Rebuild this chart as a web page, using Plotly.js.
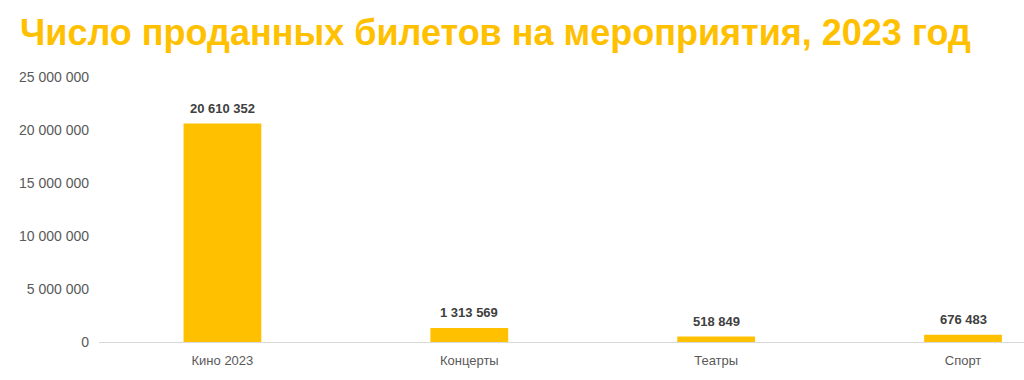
<!DOCTYPE html>
<html><head><meta charset="utf-8">
<script src="https://cdn.plot.ly/plotly-3.0.1.min.js"></script>
<style>html,body{margin:0;padding:0;background:#fff}</style>
</head><body><div id="chart" style="width:1024px;height:380px"></div>
<script>
const categories = ["Кино 2023", "Концерты", "Театры", "Спорт"];
const tickets = [20610352, 1313569, 518849, 676483];
const yTicks = [0, 5000000, 10000000, 15000000, 20000000, 25000000];

function fmt(n){ return String(n).replace(/\B(?=(\d{3})+(?!\d))/g, " "); }

const trace = {
  type: "bar", x: categories, y: tickets,
  marker: {color: "#FFC000"}, width: 0.315,
  hoverinfo: "skip"
};
const annotations = categories.map((c, i) => ({
  x: c, y: tickets[i], xref: "x", yref: "y",
  text: "<b>" + fmt(tickets[i]) + "</b>", showarrow: false,
  yanchor: "bottom", yshift: 6,
  font: {family: "Liberation Sans, Arial, sans-serif", size: 13, color: "#404040"}
}));
const layout = {
  width: 1024, height: 380,
  margin: {l: 98.5, r: 0, t: 77, b: 38, pad: 0},
  paper_bgcolor: "#fff", plot_bgcolor: "#fff",
  font: {family: "Liberation Sans, Arial, sans-serif", size: 13, color: "#595959"},
  title: {
    text: "<b>Число проданных билетов на мероприятия, 2023 год</b>",
    font: {family: "Liberation Sans, Arial, sans-serif", size: 36, color: "#FFC000"},
    xref: "container", x: 0.0195, xanchor: "left",
    yref: "container", y: 0.915, yanchor: "middle"
  },
  showlegend: false,
  bargap: 0.685,
  xaxis: {
    type: "category", range: [-0.5, 3.247], fixedrange: true,
    showline: true, linecolor: "#d9d9d9", linewidth: 1,
    showgrid: false, zeroline: false, ticks: "",
    ticklabelstandoff: 6,
    tickfont: {size: 13, color: "#595959"}
  },
  yaxis: {
    range: [0, 25000000], fixedrange: true,
    tickvals: yTicks, ticktext: yTicks.map(fmt),
    showgrid: false, zeroline: false, showline: false, ticks: "",
    ticklabelstandoff: 9,
    tickfont: {size: 14, color: "#595959"}
  },
  annotations: annotations
};
Plotly.newPlot("chart", [trace], layout, {displayModeBar: false, staticPlot: true});
</script></body></html>
